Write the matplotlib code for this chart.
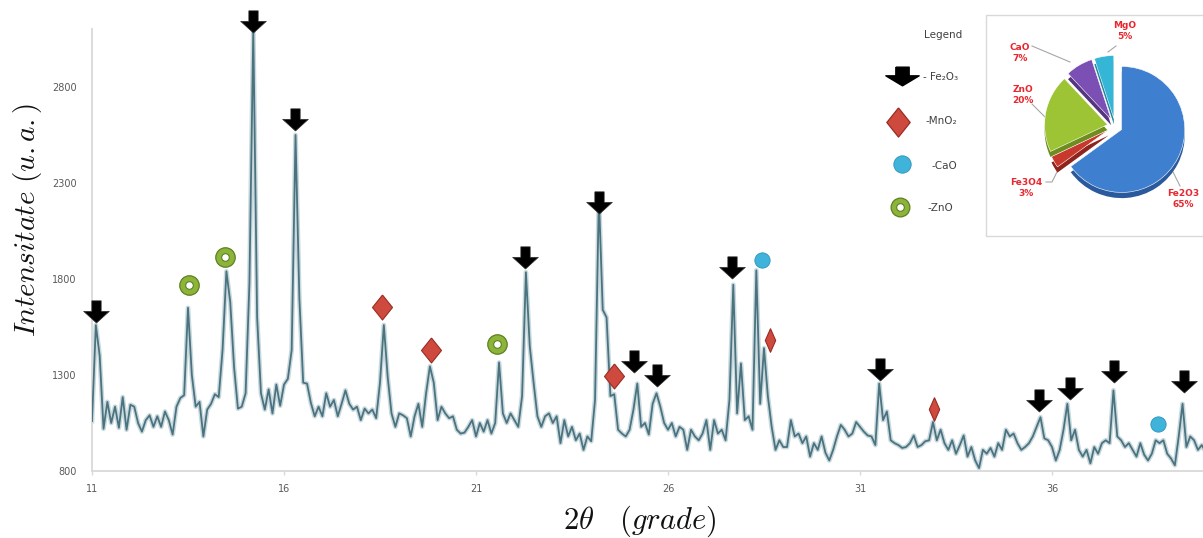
import matplotlib
matplotlib.use('Agg')
import matplotlib.pyplot as plt
from matplotlib.path import Path
from matplotlib.patches import Rectangle
import numpy as np

# ---------------- data ----------------
two_theta = np.round(np.arange(11.0, 40.05, 0.1), 1)
intensity = [
    1060, 1560, 1400, 1020, 1160, 1050, 1135, 1025, 1185, 1015,   # 11
    1145, 1135, 1050, 1005, 1065, 1090, 1030, 1085, 1030, 1110,   # 12
    1065, 990, 1135, 1180, 1195, 1650, 1300, 1135, 1160, 980,     # 13
    1120, 1150, 1200, 1185, 1430, 1840, 1680, 1340, 1125, 1135,   # 14
    1205, 1780, 3100, 1600, 1205, 1120, 1225, 1100, 1250, 1140,   # 15
    1250, 1280, 1430, 2550, 1700, 1260, 1255, 1155, 1085, 1135,   # 16
    1085, 1205, 1135, 1170, 1085, 1150, 1220, 1150, 1120, 1135,   # 17
    1065, 1125, 1100, 1120, 1075, 1260, 1560, 1290, 1100, 1030,   # 18
    1100, 1090, 1075, 980, 1085, 1150, 1030, 1205, 1345, 1260,    # 19
    1065, 1135, 1100, 1075, 1085, 1015, 995, 1000, 1030, 1065,    # 20
    980, 1050, 1005, 1065, 995, 1050, 1365, 1100, 1050, 1100,     # 21
    1065, 1030, 1190, 1835, 1450, 1260, 1085, 1030, 1085, 1100,   # 22
    1050, 1085, 945, 1065, 980, 1030, 960, 995, 910, 980,         # 23
    955, 1170, 2230, 1640, 1600, 1190, 1200, 1015, 995, 980,      # 24
    1015, 1120, 1255, 1030, 1050, 990, 1150, 1205, 1135, 1050,    # 25
    1015, 1050, 980, 1030, 1015, 910, 1015, 980, 960, 995,        # 26
    1065, 910, 1065, 995, 1015, 960, 1170, 1770, 1100, 1360,      # 27
    1065, 1085, 1015, 1845, 1150, 1440, 1190, 1030, 910, 960,     # 28
    925, 925, 1065, 980, 995, 945, 980, 875, 945, 910,            # 29
    980, 895, 855, 910, 980, 1040, 1015, 980, 995, 1055,          # 30
    1030, 1005, 985, 980, 935, 1255, 1065, 1110, 960, 945,        # 31
    935, 920, 925, 945, 985, 925, 935, 955, 960, 1055,            # 32
    960, 1015, 945, 910, 960, 890, 935, 985, 875, 925,            # 33
    855, 815, 910, 890, 920, 875, 945, 910, 1015, 980,            # 34
    995, 945, 910, 925, 945, 980, 1030, 1080, 970, 960,           # 35
    925, 855, 910, 1015, 1150, 960, 1015, 910, 875, 910,          # 36
    840, 925, 890, 945, 960, 945, 1220, 980, 960, 925,            # 37
    945, 910, 875, 945, 885, 855, 890, 960, 945, 960,             # 38
    890, 865, 830, 980, 1150, 925, 980, 960, 910, 935,            # 39
    900,                                                          # 40
]

x_ticks = [11, 16, 21, 26, 31, 36]
y_ticks = [800, 1300, 1800, 2300, 2800]

# phase markers (2theta, intensity)
fe2o3_x = [11.11, 15.19, 16.29, 22.28, 24.20, 25.11, 25.71, 27.67, 31.52, 35.66, 36.47, 37.61, 39.44]
fe2o3_y = [1630, 3139, 2628, 1909, 2196, 1368, 1295, 1857, 1326, 1165, 1227, 1316, 1264]
mno2_x = [18.56, 19.83, 24.60, 28.66, 32.94]
mno2_y = [1652, 1430, 1295, 1482, 1123]
cao_x = [28.46, 38.76]
cao_y = [1899, 1043]
zno_x = [13.53, 14.46, 21.55]
zno_y = [1769, 1913, 1460]

legend_labels = ['- Fe\u2082O\u2083', '-MnO\u2082', '-CaO', '-ZnO']

pie_labels = ['Fe2O3', 'Fe3O4', 'ZnO', 'CaO', 'MgO']
pie_values = [65, 3, 20, 7, 5]

# ---------------- style ----------------
plt.rcParams['mathtext.fontset'] = 'cm'
W, H = 1203, 538
fig = plt.figure(figsize=(W / 100, H / 100), dpi=100)
fig.patch.set_facecolor('white')

ax = fig.add_axes([92 / W, 67 / H, 1111 / W, 441.6 / H])
ax.plot(two_theta, intensity, color='#c9d9de', lw=3.4, solid_joinstyle='round', zorder=2)
ax.plot(two_theta, intensity, color='#4b737f', lw=1.3, solid_joinstyle='round', zorder=3)
ax.set_xlim(11, 11 + 1111 / 38.4)
ax.set_ylim(800, 3100)
ax.set_xticks(x_ticks)
ax.set_yticks(y_ticks)
for s in ['top', 'right']:
    ax.spines[s].set_visible(False)
for s in ['left', 'bottom']:
    ax.spines[s].set_color('#d9d9d9')
    ax.spines[s].set_linewidth(1.3)
ax.tick_params(axis='x', length=3, width=1, color='#d9d9d9', pad=6,
               labelsize=7, labelcolor='#595959')
ax.tick_params(axis='y', length=0, pad=11, labelsize=7, labelcolor='#595959')

# custom marker shapes
arrow = Path([(-0.2, 0.5), (0.2, 0.5), (0.2, 0.05), (0.55, 0.05), (0, -0.45),
              (-0.55, 0.05), (-0.2, 0.05), (-0.2, 0.5)])
arrow_wide = Path([(-0.2, 0.28), (0.2, 0.28), (0.2, 0.02), (0.5, 0.02), (0, -0.28),
                   (-0.5, 0.02), (-0.2, 0.02), (-0.2, 0.28)])
diamond = Path([(0, 0.5), (0.4, 0), (0, -0.5), (-0.4, 0), (0, 0.5)])
diamond_narrow = Path([(0, 0.5), (0.22, 0), (0, -0.5), (-0.22, 0), (0, 0.5)])
mno2_narrow = [False, False, False, True, True]

ax.plot(fe2o3_x, fe2o3_y, ls='none', marker=arrow, ms=18.5, mfc='black', mec='#333333',
        mew=0.5, clip_on=False, zorder=6)
for xi, yi, nar in zip(mno2_x, mno2_y, mno2_narrow):
    ax.plot([xi], [yi], ls='none', marker=diamond_narrow if nar else diamond,
            ms=17 if nar else 18, mfc='#cf4a3e', mec='#9a2b22', mew=0.8,
            clip_on=False, zorder=6)
ax.plot(cao_x, cao_y, ls='none', marker='o', ms=11, mfc='#3fb3da', mec='#2b93bb',
        mew=0.6, clip_on=False, zorder=6)
ax.plot(zno_x, zno_y, ls='none', marker='o', ms=14, mfc='#8cb43a', mec='#5f7f20',
        mew=0.9, clip_on=False, zorder=6)
ax.plot(zno_x, zno_y, ls='none', marker='o', ms=5.5, mfc='white', mec='#5f7f20',
        mew=0.8, clip_on=False, zorder=7)

# axis titles
fig.text(28 / W, 1 - 220 / H, r'$Intensitate\ (u.a.)$', rotation=90,
         ha='center', va='center', fontsize=21, color='#111111')
fig.text(640 / W, 1 - 521 / H, r'$2\theta\ \ \ (grade)$', ha='center', va='center',
         fontsize=22, color='#111111')

# ---------------- overlay (legend + pie box) ----------------
lax = fig.add_axes([0, 0, 1, 1], zorder=5)
lax.set_xlim(0, W)
lax.set_ylim(H, 0)
lax.axis('off')
lax.patch.set_alpha(0)

lax.add_patch(Rectangle((986, 15), 240, 221, fill=False, ec='#d9d9d9', lw=1.0))
lax.text(943, 35, 'Legend', ha='center', va='center', fontsize=7.5, color='#404040')
lax.plot([902], [76], marker=arrow_wide, ms=24, mfc='black', mec='black', ls='none')
lax.plot([898], [122], marker=diamond, ms=21, mfc='#cf4a3e', mec='#9a2b22', mew=0.9, ls='none')
lax.plot([902], [164], marker='o', ms=12.5, mfc='#3fb3da', mec='#2b93bb', mew=0.6, ls='none')
lax.plot([900], [207], marker='o', ms=13.5, mfc='#8cb43a', mec='#5f7f20', mew=0.9, ls='none')
lax.plot([900], [207], marker='o', ms=5.5, mfc='white', mec='#5f7f20', mew=0.8, ls='none')
leg_pos = [(923, 77), (926, 121), (931, 166), (927, 208)]
for (tx, ty), lab in zip(leg_pos, legend_labels):
    lax.text(tx, ty, lab, ha='left', va='center', fontsize=7.5, color='#404040')

# pie label texts and leader lines
lab_pos = [(1183, 199), (1026, 188), (1023, 95), (1020, 53), (1125, 31)]
for (tx, ty), lab, val in zip(lab_pos, pie_labels, pie_values):
    lax.text(tx, ty, f'{lab}\n{val}%', ha='center', va='center', fontsize=6.5,
             fontweight='bold', color='#e8262e', linespacing=1.25)
leaders = [([1170, 1180], [166, 186]), ([1046, 1052, 1058], [182, 182, 170]),
           ([1032, 1046], [104, 118]), ([1032, 1070], [46, 62]), ([1108, 1116], [52, 46])]
for lx, ly in leaders:
    lax.plot(lx, ly, color='#a6a6a6', lw=0.8)

# pie
R = 63
cx, cy = 1115, 126
half = 1.4 * R
pax = fig.add_axes([(cx - half) / W, (H - cy - half) / H, 2 * half / W, 2 * half / H], zorder=6)
pie_colors = ['#3f7fcf', '#c8382c', '#9cc434', '#7b4fb3', '#35b6d6']
side_colors = ['#2a5a9c', '#8e241c', '#6d8d1f', '#553482', '#23849e']
expl = [0.12, 0.12, 0.12, 0.12, 0.12]
pax.pie(pie_values, colors=side_colors, startangle=90, counterclock=False,
        explode=expl, center=(0, -0.09), wedgeprops=dict(lw=0))
pax.pie(pie_values, colors=pie_colors, startangle=90, counterclock=False,
        explode=expl, wedgeprops=dict(edgecolor='white', lw=0.4))
pax.set_xlim(-1.4, 1.4)
pax.set_ylim(-1.4, 1.4)
pax.set_aspect('equal', adjustable='datalim')
pax.axis('off')

fig.savefig('out.png', dpi=100)
